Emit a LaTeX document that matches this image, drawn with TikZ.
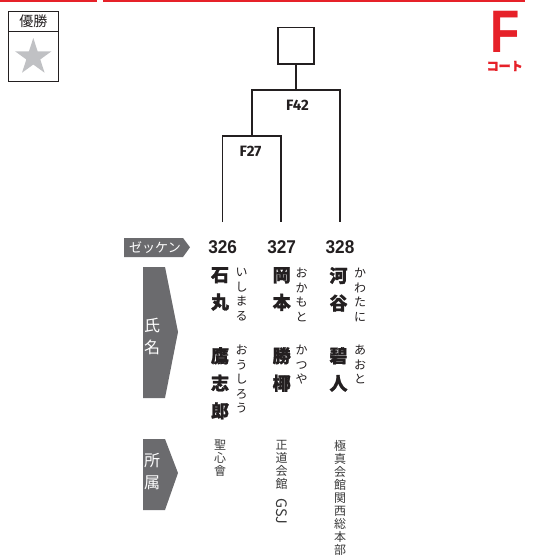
\documentclass[tikz,border=0pt]{standalone}
\usepackage{fontspec}
\usetikzlibrary{shapes.geometric}
\setmainfont{Liberation Sans}
\newfontfamily\jp{Noto Sans CJK JP}[BoldFeatures={FakeBold=1.6}]
\newfontfamily\fira{Fira Sans}
\definecolor{cred}{HTML}{E62129}
\definecolor{tagg}{HTML}{6B6B6E}
\definecolor{ink}{HTML}{231F20}
\definecolor{affc}{HTML}{3A3A3A}
\definecolor{starc}{HTML}{C0C1C4}
\tikzset{
 bracket/.style={draw=ink,line width=1.8pt},
 tagshape/.style={fill=tagg},
 tagtext/.style={text=white,font=\jp\fontsize{16}{22}\selectfont,align=center,inner sep=0},
 num/.style={text=ink,font=\fontsize{18.5}{20}\selectfont\bfseries,inner sep=0},
 rname/.style={text=ink,font=\jp\bfseries\fontsize{18}{27.5}\selectfont,align=center,inner sep=0,anchor=north},
 kana/.style={text=ink,font=\jp\fontsize{12}{14.5}\selectfont,align=center,inner sep=0,anchor=north},
 aff/.style={text=affc,font=\jp\fontsize{12}{13}\selectfont,align=center,inner sep=0,anchor=north},
 rlabel/.style={text=ink,font=\fira\bfseries\fontsize{15}{16}\selectfont,inner sep=0},
}
\begin{document}
\begin{tikzpicture}[x=1pt,y=-1pt]
\useasboundingbox (0,0) rectangle (551,560);
% top red rules
\fill[cred] (0,0) rectangle (97,2);
\fill[cred] (103,0) rectangle (525,2);
% winner box
\draw[ink,line width=0.9pt] (8,11) rectangle (58.5,81);
\draw[ink,line width=0.9pt] (8,31.7) -- (58.5,31.7);
\node[text=ink,font=\jp\fontsize{14}{16}\selectfont,inner sep=0] (yusho) at (33.3,21.5) {優勝};
\node[star,star points=5,star point ratio=2.618,fill=starc,minimum size=38.4pt,inner sep=0] (star) at (33.3,57.2) {};
% court letter
\node[text=cred,font=\fontsize{60}{61}\selectfont\bfseries,inner sep=0] (court) at (505.5,31.5) {\scalebox{0.8}[1]{F}};
\node[text=cred,font=\jp\bfseries\fontsize{12}{13}\selectfont,inner sep=0] (courtlbl) at (504.7,66) {コート};
% champion box
\node[draw=ink,line width=1.8pt,minimum width=36.5pt,minimum height=36.5pt,inner sep=0] (champ) at (296,45.8) {};
% bracket coordinates
\coordinate (t326) at (222.5,222);
\coordinate (t327) at (281.3,222);
\coordinate (t328) at (340,222);
\coordinate (f27) at (252,136);
\coordinate (f42) at (296,90);
\draw[bracket] (t326) |- (f27) -| (t327);
\draw[bracket] (f27) |- (f42) -| (t328);
\draw[bracket] (f42) -- (champ.south);
\node[rlabel] (lf42) at (297.5,105.3) {F42};
\node[rlabel] (lf27) at (250.5,151) {F27};
% zekken tag
\fill[tagg] (124,238) -- (183,238) -- (190,247.3) -- (183,257) -- (124,257) -- cycle;
\node[text=white,font=\jp\fontsize{13}{14}\selectfont,inner sep=0] (zek) at (155,247.3) {ゼッケン};
\node[num] (n326) at (222.7,247) {\scalebox{0.93}[1]{326}};
\node[num] (n327) at (281.7,247) {\scalebox{0.93}[1]{327}};
\node[num] (n328) at (340,247) {\scalebox{0.93}[1]{328}};
% name tag
\fill[tagg] (143,267) -- (165,267) -- (178,332) -- (165,398) -- (143,398) -- cycle;
\node[tagtext] (shimei) at (152,336.5) {氏\\名};
% names
\node[rname] (a1) at (220,267) {石\\丸};
\node[rname] (a2) at (220,347) {鷹\\志\\郎};
\node[kana] (k1) at (241.7,268) {い\\し\\ま\\る};
\node[kana] (k2) at (241.7,345) {お\\う\\し\\ろ\\う};
\node[rname] (b1) at (281.7,267) {岡\\本};
\node[rname] (b2) at (281.7,347) {勝\\椰};
\node[kana] (k3) at (301.7,268) {お\\か\\も\\と};
\node[kana] (k4) at (301.7,345) {か\\つ\\や};
\node[rname] (c1) at (338.5,267) {河\\谷};
\node[rname] (c2) at (338.5,347) {碧\\人};
\node[kana] (k5) at (360,268) {か\\わ\\た\\に};
\node[kana] (k6) at (360,345) {あ\\お\\と};
% affiliation tag
\fill[tagg] (143,439) -- (165,439) -- (178,473) -- (165,510) -- (143,510) -- cycle;
\node[tagtext] (shozoku) at (152,472) {所\\属};
\node[aff] (s1) at (220,440) {聖\\心\\會};
\node[aff] (s2) at (281.7,440) {正\\道\\会\\館\\[-3pt]{\fontsize{14.5}{15}\selectfont\rotatebox{-90}{GSJ}}};
\node[aff] (s3) at (340,440) {極\\真\\会\\館\\関\\西\\総\\本\\部};
\end{tikzpicture}
\end{document}
